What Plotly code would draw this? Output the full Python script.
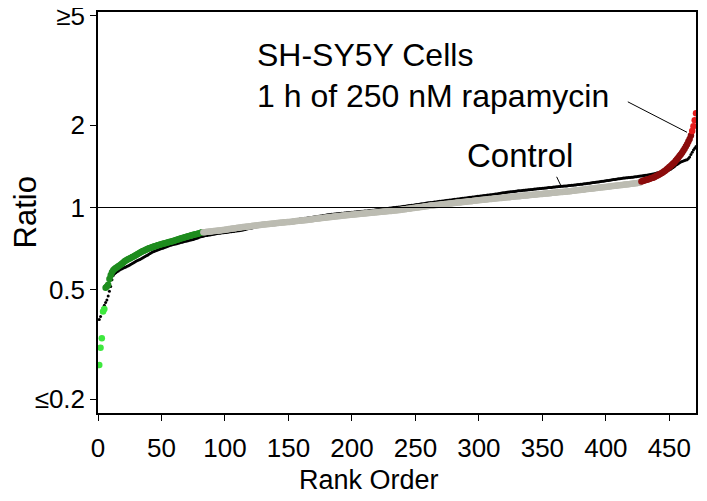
import plotly.graph_objects as go

# ---------------- data ----------------
# Rapamycin-treated ratios, sorted ascending (rank order), split by colour group
rapa_bright_green = [0.266, 0.308, 0.333, 0.417, 0.426]
rapa_dark_green = [
    0.510, 0.515, 0.522, 0.548, 0.566, 0.580, 0.590, 0.596, 0.601, 0.605,
    0.610, 0.614, 0.619, 0.624, 0.630, 0.636, 0.641, 0.645, 0.649, 0.652,
    0.656, 0.660, 0.663, 0.667, 0.671, 0.675, 0.680, 0.684, 0.688, 0.692,
    0.695, 0.698, 0.702, 0.706, 0.710, 0.712, 0.715, 0.718, 0.720, 0.722,
    0.725, 0.728, 0.730, 0.733, 0.735, 0.737, 0.739, 0.741, 0.743, 0.745,
    0.748, 0.750, 0.752, 0.755, 0.757, 0.759, 0.762, 0.764, 0.767, 0.770,
    0.772, 0.775, 0.777, 0.780, 0.782, 0.785, 0.787, 0.790, 0.792, 0.795,
    0.797, 0.799, 0.801, 0.803, 0.806, 0.809, 0.812,
]
rapa_gray = [
    0.812, 0.813, 0.814, 0.815, 0.816, 0.817, 0.818, 0.819, 0.820, 0.821,
    0.822, 0.823, 0.824, 0.825, 0.826, 0.827, 0.828, 0.830, 0.831, 0.832,
    0.834, 0.835, 0.836, 0.838, 0.839, 0.840, 0.842, 0.843, 0.844, 0.845,
    0.847, 0.848, 0.849, 0.850, 0.851, 0.852, 0.853, 0.855, 0.856, 0.857,
    0.858, 0.859, 0.860, 0.862, 0.863, 0.864, 0.865, 0.866, 0.867, 0.868,
    0.869, 0.870, 0.871, 0.872, 0.873, 0.874, 0.875, 0.876, 0.877, 0.878,
    0.879, 0.880, 0.881, 0.882, 0.883, 0.884, 0.885, 0.885, 0.886, 0.887,
    0.888, 0.889, 0.890, 0.892, 0.893, 0.894, 0.895, 0.896, 0.897, 0.898,
    0.899, 0.900, 0.901, 0.903, 0.904, 0.905, 0.906, 0.908, 0.909, 0.910,
    0.911, 0.912, 0.914, 0.915, 0.916, 0.917, 0.918, 0.920, 0.921, 0.922,
    0.923, 0.924, 0.926, 0.927, 0.928, 0.929, 0.930, 0.931, 0.932, 0.933,
    0.934, 0.935, 0.936, 0.937, 0.938, 0.939, 0.940, 0.941, 0.942, 0.943,
    0.944, 0.945, 0.946, 0.947, 0.948, 0.949, 0.950, 0.951, 0.952, 0.953,
    0.954, 0.955, 0.956, 0.957, 0.958, 0.959, 0.960, 0.961, 0.962, 0.963,
    0.964, 0.965, 0.966, 0.967, 0.968, 0.969, 0.970, 0.971, 0.972, 0.974,
    0.975, 0.976, 0.977, 0.978, 0.979, 0.980, 0.982, 0.983, 0.985, 0.986,
    0.987, 0.989, 0.990, 0.992, 0.993, 0.995, 0.996, 0.998, 0.999, 1.001,
    1.002, 1.004, 1.005, 1.007, 1.008, 1.010, 1.011, 1.013, 1.014, 1.016,
    1.017, 1.018, 1.019, 1.021, 1.022, 1.023, 1.024, 1.026, 1.027, 1.028,
    1.029, 1.030, 1.032, 1.033, 1.034, 1.035, 1.037, 1.038, 1.039, 1.040,
    1.042, 1.043, 1.044, 1.045, 1.047, 1.048, 1.049, 1.050, 1.052, 1.053,
    1.054, 1.055, 1.057, 1.058, 1.059, 1.060, 1.062, 1.063, 1.064, 1.065,
    1.067, 1.068, 1.069, 1.070, 1.072, 1.073, 1.074, 1.075, 1.077, 1.078,
    1.079, 1.080, 1.081, 1.082, 1.083, 1.084, 1.086, 1.087, 1.088, 1.089,
    1.090, 1.091, 1.092, 1.094, 1.095, 1.096, 1.097, 1.098, 1.099, 1.100,
    1.101, 1.103, 1.104, 1.105, 1.106, 1.107, 1.108, 1.110, 1.111, 1.112,
    1.113, 1.114, 1.115, 1.117, 1.118, 1.119, 1.120, 1.121, 1.122, 1.124,
    1.125, 1.126, 1.127, 1.128, 1.130, 1.131, 1.132, 1.133, 1.135, 1.136,
    1.137, 1.138, 1.139, 1.140, 1.141, 1.142, 1.143, 1.144, 1.146, 1.147,
    1.149, 1.150, 1.152, 1.153, 1.155, 1.156, 1.158, 1.159, 1.161, 1.162,
    1.164, 1.165, 1.167, 1.168, 1.170, 1.171, 1.173, 1.174, 1.176, 1.177,
    1.179, 1.180, 1.182, 1.183, 1.185, 1.186, 1.188, 1.189, 1.191, 1.192,
    1.194, 1.195, 1.197, 1.198, 1.200, 1.201, 1.203, 1.205, 1.206, 1.208,
    1.209, 1.211, 1.212, 1.214, 1.215, 1.217, 1.218, 1.220, 1.221, 1.223,
    1.225, 1.227, 1.229, 1.232, 1.235,
]
rapa_dark_red = [
    1.245, 1.250, 1.254, 1.258, 1.262, 1.266, 1.270, 1.275, 1.280, 1.285,
    1.290, 1.298, 1.305, 1.312, 1.320, 1.328, 1.336, 1.345, 1.355, 1.365,
    1.380, 1.392, 1.405, 1.418, 1.432, 1.446, 1.460, 1.480, 1.500, 1.520,
    1.540, 1.560, 1.585, 1.610, 1.640, 1.670, 1.700, 1.740, 1.780, 1.830,
]
rapa_bright_red = [1.90, 1.98, 2.08, 2.21]

# Control ratios, sorted ascending (rank order)
control = [
    0.390, 0.400, 0.415, 0.430, 0.440, 0.450, 0.460, 0.475, 0.495, 0.515,
    0.545, 0.565, 0.573, 0.578, 0.583, 0.587, 0.591, 0.595, 0.598, 0.601,
    0.604, 0.607, 0.610, 0.613, 0.617, 0.621, 0.625, 0.629, 0.633, 0.637,
    0.640, 0.643, 0.646, 0.650, 0.654, 0.658, 0.662, 0.666, 0.670, 0.675,
    0.680, 0.684, 0.688, 0.691, 0.694, 0.697, 0.700, 0.703, 0.706, 0.708,
    0.710, 0.713, 0.716, 0.719, 0.722, 0.725, 0.728, 0.730, 0.732, 0.734,
    0.736, 0.738, 0.740, 0.742, 0.745, 0.747, 0.749, 0.751, 0.753, 0.755,
    0.757, 0.759, 0.761, 0.763, 0.765, 0.767, 0.770, 0.773, 0.776, 0.780,
    0.782, 0.784, 0.786, 0.788, 0.790, 0.791, 0.793, 0.794, 0.796, 0.797,
    0.799, 0.800, 0.802, 0.803, 0.805, 0.806, 0.807, 0.808, 0.809, 0.810,
    0.811, 0.812, 0.814, 0.815, 0.816, 0.817, 0.818, 0.820, 0.821, 0.822,
    0.823, 0.825, 0.826, 0.828, 0.830, 0.832, 0.834, 0.836, 0.838, 0.840,
    0.842, 0.844, 0.846, 0.848, 0.850, 0.852, 0.855, 0.857, 0.859, 0.861,
    0.863, 0.865, 0.867, 0.869, 0.871, 0.873, 0.875, 0.877, 0.878, 0.880,
    0.881, 0.883, 0.884, 0.886, 0.887, 0.888, 0.890, 0.891, 0.892, 0.893,
    0.895, 0.896, 0.898, 0.899, 0.901, 0.902, 0.904, 0.905, 0.907, 0.908,
    0.910, 0.911, 0.913, 0.914, 0.916, 0.917, 0.919, 0.920, 0.922, 0.923,
    0.925, 0.926, 0.928, 0.929, 0.931, 0.932, 0.934, 0.935, 0.937, 0.938,
    0.940, 0.941, 0.942, 0.944, 0.945, 0.946, 0.947, 0.948, 0.949, 0.950,
    0.951, 0.952, 0.953, 0.954, 0.955, 0.956, 0.957, 0.958, 0.959, 0.960,
    0.961, 0.962, 0.963, 0.964, 0.965, 0.966, 0.967, 0.968, 0.969, 0.970,
    0.971, 0.972, 0.973, 0.975, 0.976, 0.977, 0.978, 0.980, 0.981, 0.982,
    0.983, 0.985, 0.986, 0.987, 0.988, 0.990, 0.991, 0.992, 0.994, 0.995,
    0.996, 0.998, 0.999, 1.000, 1.002, 1.003, 1.004, 1.005, 1.007, 1.008,
    1.010, 1.011, 1.013, 1.014, 1.016, 1.017, 1.019, 1.020, 1.022, 1.023,
    1.025, 1.026, 1.028, 1.029, 1.031, 1.032, 1.034, 1.036, 1.038, 1.040,
    1.041, 1.043, 1.044, 1.045, 1.047, 1.048, 1.050, 1.051, 1.053, 1.054,
    1.056, 1.057, 1.059, 1.060, 1.062, 1.063, 1.065, 1.066, 1.068, 1.069,
    1.071, 1.072, 1.074, 1.075, 1.077, 1.078, 1.080, 1.081, 1.083, 1.084,
    1.086, 1.087, 1.089, 1.090, 1.092, 1.093, 1.095, 1.096, 1.098, 1.099,
    1.101, 1.102, 1.104, 1.105, 1.107, 1.108, 1.110, 1.111, 1.113, 1.114,
    1.116, 1.117, 1.119, 1.121, 1.123, 1.125, 1.128, 1.130, 1.132, 1.133,
    1.135, 1.136, 1.138, 1.139, 1.141, 1.142, 1.144, 1.145, 1.147, 1.148,
    1.150, 1.151, 1.152, 1.154, 1.155, 1.156, 1.158, 1.159, 1.160, 1.162,
    1.163, 1.164, 1.166, 1.167, 1.168, 1.170, 1.171, 1.172, 1.174, 1.175,
    1.176, 1.178, 1.179, 1.180, 1.182, 1.183, 1.184, 1.186, 1.187, 1.188,
    1.190, 1.191, 1.192, 1.194, 1.195, 1.196, 1.197, 1.198, 1.199, 1.200,
    1.202, 1.203, 1.205, 1.206, 1.208, 1.209, 1.211, 1.212, 1.214, 1.215,
    1.217, 1.218, 1.220, 1.221, 1.223, 1.225, 1.227, 1.229, 1.231, 1.233,
    1.235, 1.237, 1.239, 1.240, 1.242, 1.244, 1.246, 1.248, 1.250, 1.252,
    1.254, 1.256, 1.258, 1.260, 1.262, 1.264, 1.266, 1.268, 1.270, 1.272,
    1.274, 1.276, 1.278, 1.280, 1.282, 1.284, 1.285, 1.286, 1.287, 1.289,
    1.290, 1.292, 1.294, 1.296, 1.298, 1.300, 1.302, 1.304, 1.306, 1.308,
    1.310, 1.312, 1.315, 1.318, 1.320, 1.323, 1.326, 1.329, 1.332, 1.335,
    1.338, 1.341, 1.344, 1.347, 1.350, 1.353, 1.356, 1.360, 1.365, 1.372,
    1.380, 1.390, 1.400, 1.412, 1.425, 1.435, 1.445, 1.455, 1.465, 1.472,
    1.478, 1.484, 1.490, 1.495, 1.510, 1.530, 1.560, 1.590, 1.620, 1.645,
    1.670,
]

x_tick_vals = [0, 50, 100, 150, 200, 250, 300, 350, 400, 450]
y_tick_vals = [0.2, 0.5, 1, 2, 5]
y_tick_text = ["≤0.2", "0.5", "1", "2", "≥5"]

FONT = "Arial, 'Liberation Sans', sans-serif"

# ---------------- figure ----------------
fig = go.Figure()

control_ranks = list(range(1, len(control) + 1))
fig.add_trace(go.Scatter(
    x=control_ranks, y=control, mode="markers",
    marker=dict(size=3, color="black"), name="Control", showlegend=False,
))

groups = [
    (rapa_bright_green, "#3ee83e"),
    (rapa_dark_green, "#1e8c1e"),
    (rapa_gray, "#bcbcb2"),
    (rapa_dark_red, "#8c0c0c"),
    (rapa_bright_red, "#e41c1c"),
]
start = 1
for vals, col in groups:
    ranks = list(range(start, start + len(vals)))
    start += len(vals)
    fig.add_trace(go.Scatter(
        x=ranks, y=vals, mode="markers",
        marker=dict(size=6.5, color=col, line=dict(width=0)),
        showlegend=False,
    ))

# reference line at ratio = 1
fig.add_shape(type="line", xref="paper", x0=0, x1=1, yref="y", y0=1, y1=1,
              line=dict(color="black", width=1))

# leader lines
fig.add_shape(type="line", xref="paper", yref="paper",
              x0=0.767, y0=0.589, x1=0.775, y1=0.564,
              line=dict(color="black", width=1))
fig.add_shape(type="line", xref="paper", yref="paper",
              x0=0.886, y0=0.776, x1=0.985, y1=0.700,
              line=dict(color="black", width=1))

ann_font = dict(family=FONT, size=32, color="black")
fig.add_annotation(text="SH-SY5Y Cells", xref="paper", yref="paper",
                   x=0.263, y=0.892, xanchor="left", yanchor="middle",
                   showarrow=False, font=ann_font)
fig.add_annotation(text="1 h of 250 nM rapamycin", xref="paper", yref="paper",
                   x=0.263, y=0.790, xanchor="left", yanchor="middle",
                   showarrow=False, font=ann_font)
fig.add_annotation(text="Control", xref="paper", yref="paper",
                   x=0.614, y=0.641, xanchor="left", yanchor="middle",
                   showarrow=False, font=dict(family=FONT, size=33, color="black"))
fig.add_annotation(text="Ratio", xref="paper", yref="paper",
                   x=-0.1215, y=0.501, xanchor="center", yanchor="middle",
                   textangle=-90, showarrow=False,
                   font=dict(family=FONT, size=31, color="black"))
fig.add_annotation(text="Rank Order", xref="paper", yref="paper",
                   x=0.453, y=-0.168, xanchor="center", yanchor="middle",
                   showarrow=False,
                   font=dict(family=FONT, size=27, color="black"))

fig.update_xaxes(
    range=[0, 471], tickvals=x_tick_vals, ticks="outside", ticklen=6,
    tickwidth=1, tickcolor="black", showline=True, linecolor="black",
    linewidth=1.5, mirror=True, showgrid=False, zeroline=False,
    tickfont=dict(family=FONT, size=26, color="black"), ticklabelstandoff=5,
    automargin=False, ticklabeloverflow="allow",
)
fig.update_yaxes(
    type="log", range=[-0.750, 0.7135], tickvals=y_tick_vals,
    ticktext=y_tick_text, ticks="outside", ticklen=6, tickwidth=1,
    tickcolor="black", showline=True, linecolor="black", linewidth=1.5,
    mirror=True, showgrid=False, zeroline=False,
    tickfont=dict(family=FONT, size=26, color="black"), ticklabelstandoff=0,
    automargin=False, ticklabeloverflow="allow",
)
# page body adds an 8 px offset, so the figure is sized/margined to compensate
fig.update_layout(
    width=699, height=493,
    margin=dict(l=90, r=11, t=4, b=88),
    paper_bgcolor="white", plot_bgcolor="white",
    font=dict(family=FONT),
)

fig.write_html("out.html")
